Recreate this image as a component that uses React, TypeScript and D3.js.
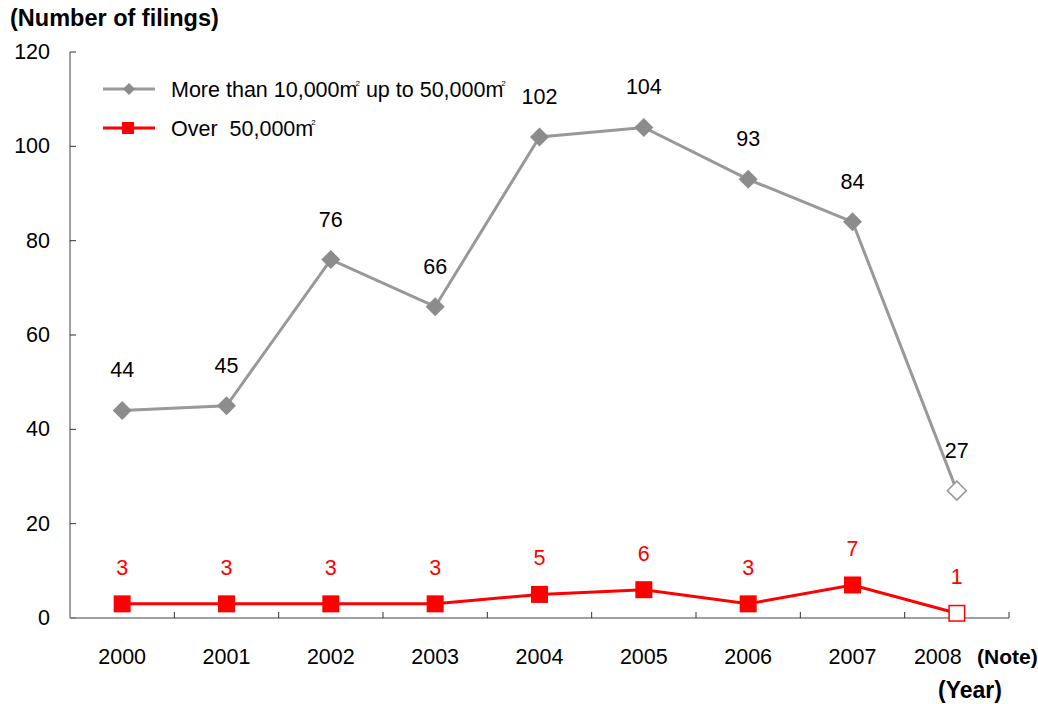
import React from "react";
import * as d3 from "d3";

const years = ["2000", "2001", "2002", "2003", "2004", "2005", "2006", "2007", "2008"];
const midSize = [44, 45, 76, 66, 102, 104, 93, 84, 27];
const largeSize = [3, 3, 3, 3, 5, 6, 3, 7, 1];
const yTicks = [0, 20, 40, 60, 80, 100, 120];

const W = 1038, H = 704;
const FONT = "'Liberation Sans', Arial, sans-serif";
const FS = 21.5;

export default function App() {
  const x = d3.scaleBand<string>().domain(years).range([70, 1009]);
  const y = d3.scaleLinear().domain([0, 120]).range([618, 52]);
  const cx = (d: string) => (x(d) as number) + x.bandwidth() / 2;
  const line = d3.line<number>().x((_, i) => cx(years[i])).y((v) => y(v));
  const last = years.length - 1;
  const diamond = (px: number, py: number, r: number) =>
    `M${px},${py - r}L${px + r},${py}L${px},${py + r}L${px - r},${py}Z`;
  const gray = "#999999";
  const grayMark = "#8c8c8c";
  const red = "#ff0000";
  const sq = 17;
  const sup = () => (
    <tspan fontSize={8} dy={-11} dx={-2}>2</tspan>
  );

  return (
    <svg width={W} height={H} style={{ position: "absolute", left: 0, top: 0, background: "#fff" }} fontFamily={FONT}>
      <text x={10} y={26} fontSize={23.5} fontWeight="bold">(Number of filings)</text>
      {/* y axis */}
      <line x1={70} x2={70} y1={y(120)} y2={y(0)} stroke="#808080" strokeWidth={1.5} />
      {yTicks.map((t) => (
        <g key={t}>
          <line x1={70} x2={76} y1={y(t)} y2={y(t)} stroke="#333" strokeWidth={1} />
          <text x={50} y={y(t) + 7} fontSize={FS} textAnchor="end">{t}</text>
        </g>
      ))}
      {/* x axis */}
      <line x1={70} x2={1009} y1={y(0)} y2={y(0)} stroke="#808080" strokeWidth={1.5} />
      {years.map((yr) => (
        <line key={"t" + yr} x1={(x(yr) as number) + x.bandwidth()} x2={(x(yr) as number) + x.bandwidth()} y1={y(0)} y2={y(0) - 6} stroke="#333" strokeWidth={1} />
      ))}
      {years.map((yr, i) => (
        <text key={"l" + yr} x={cx(yr) - (i === last ? 19 : 0)} y={664} fontSize={FS} textAnchor="middle">{yr}</text>
      ))}
      <text x={977} y={664} fontSize={21} fontWeight="bold">(Note)</text>
      <text x={938} y={698} fontSize={23} fontWeight="bold">(Year)</text>

      {/* gray series */}
      <path d={line(midSize) || ""} fill="none" stroke={gray} strokeWidth={3} />
      {midSize.map((v, i) =>
        i === last ? (
          <path key={i} d={diamond(cx(years[i]), y(v), 9.5)} fill="#fff" stroke={gray} strokeWidth={1.5} />
        ) : (
          <path key={i} d={diamond(cx(years[i]), y(v), 9.5)} fill={grayMark} />
        )
      )}
      {midSize.map((v, i) => (
        <text key={"gl" + i} x={cx(years[i])} y={y(v) - 33} fontSize={FS} textAnchor="middle">{v}</text>
      ))}

      {/* red series */}
      <path d={line(largeSize) || ""} fill="none" stroke={red} strokeWidth={3} />
      {largeSize.map((v, i) =>
        i === last ? (
          <rect key={i} x={cx(years[i]) - sq / 2 + 0.75} y={y(v) - sq / 2 + 0.75} width={sq - 1.5} height={sq - 1.5} fill="#fff" stroke={red} strokeWidth={1.5} />
        ) : (
          <rect key={i} x={cx(years[i]) - sq / 2} y={y(v) - sq / 2} width={sq} height={sq} fill={red} />
        )
      )}
      {largeSize.map((v, i) => (
        <text key={"rl" + i} x={cx(years[i])} y={y(v) - 29} fontSize={FS} textAnchor="middle" fill={red}>{v}</text>
      ))}

      {/* legend */}
      <line x1={103} x2={155} y1={89} y2={89} stroke={gray} strokeWidth={3} />
      <path d={diamond(129, 89, 6)} fill={grayMark} />
      <text x={171} y={97} fontSize={FS}>More than 10,000m{sup()}<tspan dy={11}> up to 50,000m</tspan>{sup()}</text>
      <line x1={103} x2={155} y1={128} y2={128} stroke={red} strokeWidth={3} />
      <rect x={122} y={122} width={12} height={12} fill={red} />
      <text x={171} y={136} fontSize={FS} style={{ whiteSpace: "pre" }}>{"Over  50,000m"}{sup()}</text>
    </svg>
  );
}
